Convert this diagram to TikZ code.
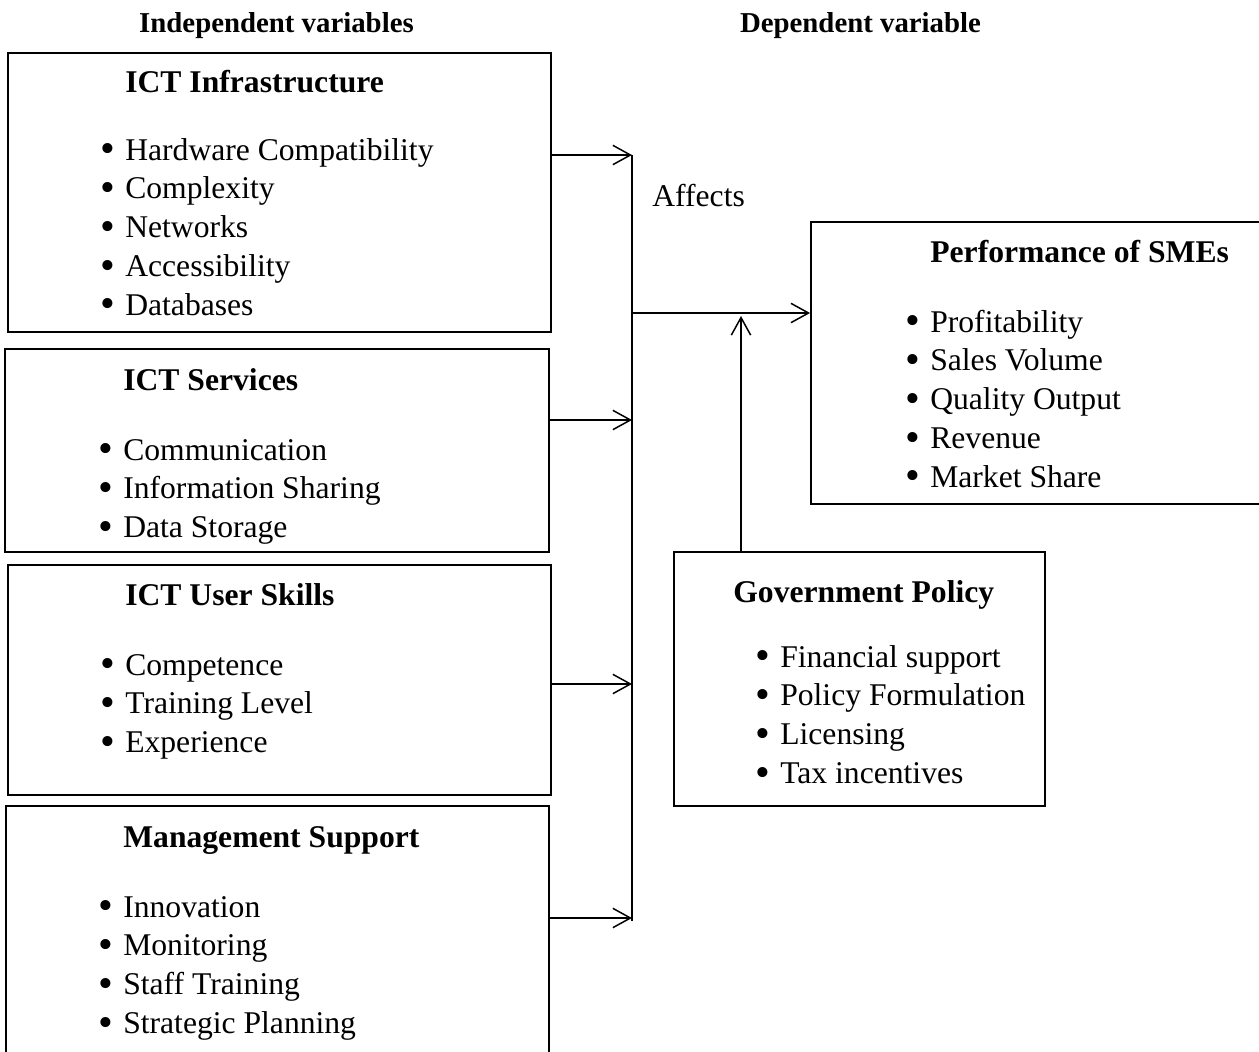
\documentclass[tikz,border=0pt]{standalone}
\usepackage{fontspec}
\setmainfont{Liberation Serif}
\usetikzlibrary{arrows.meta}

\newcommand{\itm}{\makebox[14.2pt][l]{\raisebox{-1.5pt}{\fontsize{24}{24}\selectfont\textbullet}}}
\newcommand{\itemlist}[1]{\begin{tabular}[t]{@{}l@{}}#1\end{tabular}}

\begin{document}
\begin{tikzpicture}[x=0.02cm,y=-0.02cm]
\tikzstyle{box}=[draw,line width=1.1pt,inner sep=0pt]
\tikzstyle{arr}=[-{Straight Barb[length=10pt,width=11pt]},line width=0.85pt]
\tikzstyle{ttl}=[anchor=base west,inner sep=0pt,font=\fontsize{18}{22}\selectfont\bfseries]
\tikzstyle{lst}=[anchor=base west,inner sep=0pt,font=\fontsize{18}{22.1}\selectfont]
\tikzstyle{hdr}=[anchor=base,inner sep=0pt,font=\fontsize{16.4}{20}\selectfont\bfseries]
\clip (0,0) rectangle (1259,1052);

\node (h1) at (276.5,32) [hdr]{Independent variables};
\node (h2) at (860.5,32) [hdr]{Dependent variable};

% independent variables
\node (1) at (279.5,192.5) [box,minimum width=10.86cm,minimum height=5.58cm]{};
\node (1t) at (125,92) [ttl]{ICT Infrastructure};
\node (1l) at (100,160) [lst]{\itemlist{\itm Hardware Compatibility\\ \itm Complexity\\ \itm Networks\\ \itm Accessibility\\ \itm Databases}};

\node (2) at (277,450.5) [box,minimum width=10.88cm,minimum height=4.06cm]{};
\node (2t) at (123,390) [ttl]{ICT Services};
\node (2l) at (98,460) [lst]{\itemlist{\itm Communication\\ \itm Information Sharing\\ \itm Data Storage}};

\node (3) at (279.5,680) [box,minimum width=10.86cm,minimum height=4.6cm]{};
\node (3t) at (125,605) [ttl]{ICT User Skills};
\node (3l) at (100,675) [lst]{\itemlist{\itm Competence\\ \itm Training Level\\ \itm Experience}};

\node (4) at (277.5,938) [box,minimum width=10.86cm,minimum height=5.28cm]{};
\node (4t) at (123,847) [ttl]{Management Support};
\node (4l) at (98,917) [lst]{\itemlist{\itm Innovation\\ \itm Monitoring\\ \itm Staff Training\\ \itm Strategic Planning}};

% dependent variable and moderator
\node (5) at (1036.5,363) [box,minimum width=9.02cm,minimum height=5.64cm]{};
\node (5t) at (930,262) [ttl]{Performance of SMEs};
\node (5l) at (905,332) [lst]{\itemlist{\itm Profitability\\ \itm Sales Volume\\ \itm Quality Output\\ \itm Revenue\\ \itm Market Share}};

\node (6) at (859.5,679) [box,minimum width=7.42cm,minimum height=5.08cm]{};
\node (6t) at (733,602) [ttl]{Government Policy};
\node (6l) at (755,667) [lst]{\itemlist{\itm Financial support\\ \itm Policy Formulation\\ \itm Licensing\\ \itm Tax incentives}};

\node (7) at (652,206) [lst]{Affects};

\coordinate (a) at (632,155);
\coordinate (b) at (632,420);
\coordinate (c) at (632,684);
\coordinate (d) at (632,918);
\coordinate (e) at (632,921);
\coordinate (m) at (632,313);
\coordinate (u) at (741,316);

\draw[line width=1.1pt] (a) -- (e);
\draw[arr] (1.east |- a) -- (a);
\draw[arr] (2.east |- b) -- (b);
\draw[arr] (3.east |- c) -- (c);
\draw[arr] (4.east |- d) -- (d);
\draw[arr] (m) -- (m -| 5.west);
\draw[arr] (6.north -| u) -- (u);
\end{tikzpicture}
\end{document}
